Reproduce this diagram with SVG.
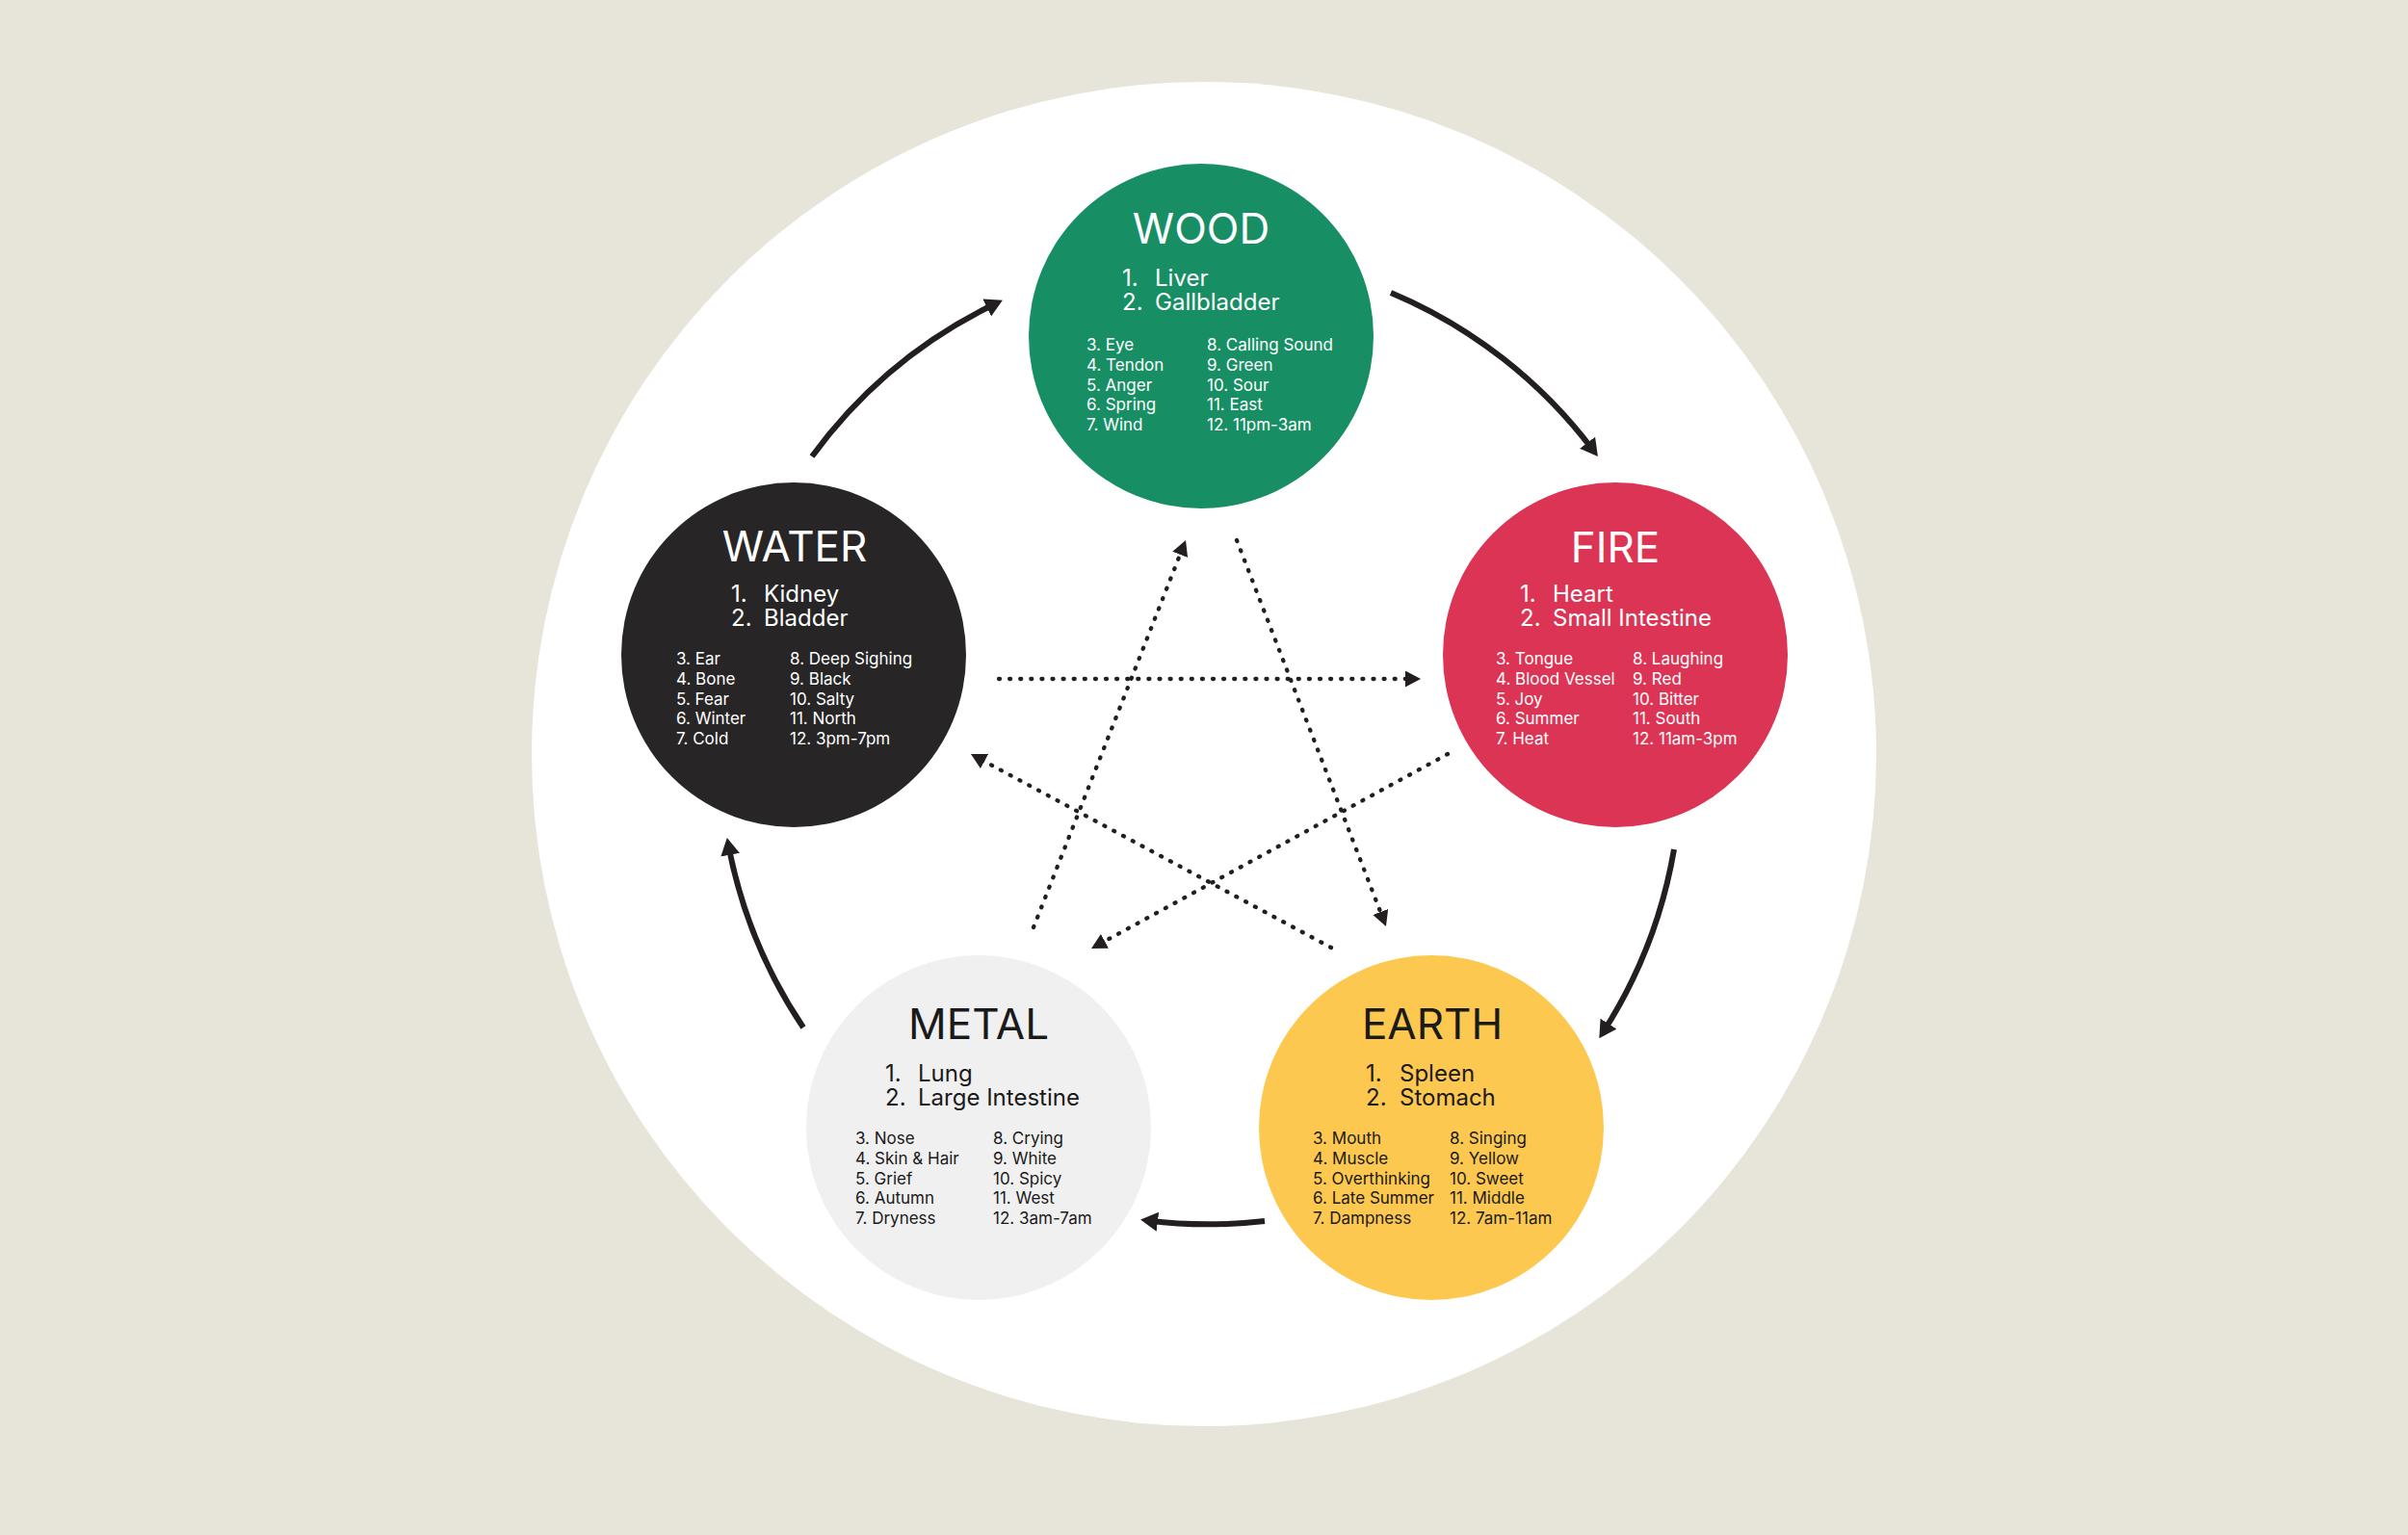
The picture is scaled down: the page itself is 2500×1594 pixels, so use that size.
<svg xmlns="http://www.w3.org/2000/svg" width="2500" height="1594" viewBox="0 0 2500 1594">
<style>
.t{font-family:Inter,"Liberation Sans",sans-serif}
.title{font-size:44px;text-anchor:middle}
.org{font-size:24px}
.li{font-size:17px}
.lt{fill:#ffffff}
.dk{fill:#1a1a1a}
.solid{fill:none;stroke:#231f20;stroke-width:6}
.dot{fill:none;stroke:#231f20;stroke-width:4.3;stroke-linecap:round;stroke-dasharray:1 10.1}
</style>
<defs>
<marker id="ah" markerUnits="userSpaceOnUse" viewBox="0 0 18 20" markerWidth="18" markerHeight="20" refX="10" refY="10" orient="auto"><path d="M0,0 L18,10 L0,20 z" fill="#231f20"/></marker>
<marker id="dh" markerUnits="userSpaceOnUse" viewBox="0 0 16 17" markerWidth="16" markerHeight="17" refX="8" refY="8.5" orient="auto"><path d="M0,0 L16,8.5 L0,17 z" fill="#231f20"/></marker>
</defs>
<rect x="0" y="0" width="2500" height="1594" fill="#e7e5da"/>
<circle cx="1250" cy="783" r="698" fill="#ffffff"/>

<g id="connectors">
<path class="solid" marker-end="url(#ah)" d="M843,474 A510,510 0 0 1 1033.7,315.2"/>
<path class="solid" marker-end="url(#ah)" d="M1444,304 A510,510 0 0 1 1654.1,467.7"/>
<path class="solid" marker-end="url(#ah)" d="M1738,882 A510,510 0 0 1 1664.6,1071.5"/>
<path class="solid" marker-end="url(#ah)" d="M1313,1268 A510,510 0 0 1 1192,1267.5"/>
<path class="solid" marker-end="url(#ah)" d="M834,1067 A510,510 0 0 1 756.3,877.9"/>
<path class="dot" marker-end="url(#dh)" d="M1037,705 L1467,705"/>
<path class="dot" marker-end="url(#dh)" d="M1073,963 L1228.1,568.4"/>
<path class="dot" marker-end="url(#dh)" d="M1284,561 L1436.1,954.5"/>
<path class="dot" marker-end="url(#dh)" d="M1503,783 L1140,981.2"/>
<path class="dot" marker-end="url(#dh)" d="M1382,984 L1015,786.8"/>
</g>

<g id="wood">
<circle cx="1247" cy="349" r="179" fill="#178e64"/>
<text class="t title lt" x="1247" y="253">WOOD</text>
<text class="t org lt"><tspan x="1165" y="297">1.</tspan><tspan x="1199" y="297">Liver</tspan><tspan x="1165" y="322">2.</tspan><tspan x="1199" y="322">Gallbladder</tspan></text>
<text class="t li lt"><tspan x="1128" y="364">3. Eye</tspan><tspan x="1128" y="384.8">4. Tendon</tspan><tspan x="1128" y="405.6">5. Anger</tspan><tspan x="1128" y="426.4">6. Spring</tspan><tspan x="1128" y="447.2">7. Wind</tspan></text>
<text class="t li lt"><tspan x="1253" y="364">8. Calling Sound</tspan><tspan x="1253" y="384.8">9. Green</tspan><tspan x="1253" y="405.6">10. Sour</tspan><tspan x="1253" y="426.4">11. East</tspan><tspan x="1253" y="447.2">12. 11pm-3am</tspan></text>
</g>

<g id="fire">
<circle cx="1677" cy="680" r="179" fill="#db3454"/>
<text class="t title lt" x="1677" y="584">FIRE</text>
<text class="t org lt"><tspan x="1578" y="625">1.</tspan><tspan x="1612" y="625">Heart</tspan><tspan x="1578" y="650">2.</tspan><tspan x="1612" y="650">Small Intestine</tspan></text>
<text class="t li lt"><tspan x="1553" y="690">3. Tongue</tspan><tspan x="1553" y="710.8">4. Blood Vessel</tspan><tspan x="1553" y="731.6">5. Joy</tspan><tspan x="1553" y="752.4">6. Summer</tspan><tspan x="1553" y="773.2">7. Heat</tspan></text>
<text class="t li lt"><tspan x="1695" y="690">8. Laughing</tspan><tspan x="1695" y="710.8">9. Red</tspan><tspan x="1695" y="731.6">10. Bitter</tspan><tspan x="1695" y="752.4">11. South</tspan><tspan x="1695" y="773.2">12. 11am-3pm</tspan></text>
</g>

<g id="water">
<circle cx="824" cy="680" r="179" fill="#272526"/>
<text class="t title lt" x="825" y="583">WATER</text>
<text class="t org lt"><tspan x="759" y="625">1.</tspan><tspan x="793" y="625">Kidney</tspan><tspan x="759" y="650">2.</tspan><tspan x="793" y="650">Bladder</tspan></text>
<text class="t li lt"><tspan x="702" y="690">3. Ear</tspan><tspan x="702" y="710.8">4. Bone</tspan><tspan x="702" y="731.6">5. Fear</tspan><tspan x="702" y="752.4">6. Winter</tspan><tspan x="702" y="773.2">7. Cold</tspan></text>
<text class="t li lt"><tspan x="820" y="690">8. Deep Sighing</tspan><tspan x="820" y="710.8">9. Black</tspan><tspan x="820" y="731.6">10. Salty</tspan><tspan x="820" y="752.4">11. North</tspan><tspan x="820" y="773.2">12. 3pm-7pm</tspan></text>
</g>

<g id="metal">
<circle cx="1016" cy="1171" r="179" fill="#f0f0f0"/>
<text class="t title dk" x="1016" y="1079">METAL</text>
<text class="t org dk"><tspan x="919" y="1123">1.</tspan><tspan x="953" y="1123">Lung</tspan><tspan x="919" y="1148">2.</tspan><tspan x="953" y="1148">Large Intestine</tspan></text>
<text class="t li dk"><tspan x="888" y="1188">3. Nose</tspan><tspan x="888" y="1208.8">4. Skin &amp; Hair</tspan><tspan x="888" y="1229.6">5. Grief</tspan><tspan x="888" y="1250.4">6. Autumn</tspan><tspan x="888" y="1271.2">7. Dryness</tspan></text>
<text class="t li dk"><tspan x="1031" y="1188">8. Crying</tspan><tspan x="1031" y="1208.8">9. White</tspan><tspan x="1031" y="1229.6">10. Spicy</tspan><tspan x="1031" y="1250.4">11. West</tspan><tspan x="1031" y="1271.2">12. 3am-7am</tspan></text>
</g>

<g id="earth">
<circle cx="1486" cy="1171" r="179" fill="#fdc84f"/>
<text class="t title dk" x="1487" y="1079">EARTH</text>
<text class="t org dk"><tspan x="1418" y="1123">1.</tspan><tspan x="1453" y="1123">Spleen</tspan><tspan x="1418" y="1148">2.</tspan><tspan x="1453" y="1148">Stomach</tspan></text>
<text class="t li dk"><tspan x="1363" y="1188">3. Mouth</tspan><tspan x="1363" y="1208.8">4. Muscle</tspan><tspan x="1363" y="1229.6">5. Overthinking</tspan><tspan x="1363" y="1250.4">6. Late Summer</tspan><tspan x="1363" y="1271.2">7. Dampness</tspan></text>
<text class="t li dk"><tspan x="1505" y="1188">8. Singing</tspan><tspan x="1505" y="1208.8">9. Yellow</tspan><tspan x="1505" y="1229.6">10. Sweet</tspan><tspan x="1505" y="1250.4">11. Middle</tspan><tspan x="1505" y="1271.2">12. 7am-11am</tspan></text>
</g>
</svg>
